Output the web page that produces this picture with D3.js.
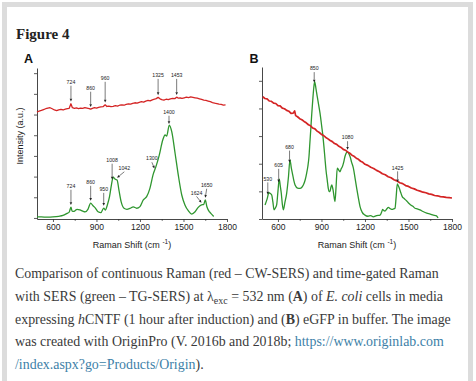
<!DOCTYPE html>
<html><head><meta charset="utf-8">
<script src="https://cdn.jsdelivr.net/npm/d3@7"></script>
<style>body{margin:0;background:#fff;} svg{display:block;}</style>
</head><body>
<svg id="c" width="476" height="381"></svg>
<script>
// ---------- data ----------
const xTicks = [600, 900, 1200, 1500, 1800];
const xMinorTicks = [750, 1050, 1350, 1650];
const yTicksA = [0, 1, 2, 3, 4, 5, 6, 7];
const yTicksB = [0, 1, 2, 3, 4, 5];

// Panel A, continuous Raman (red - CW-SERS)
const redA = [[490,5.12],[505,5.17],[520,5.20],[535,5.24],[550,5.28],[565,5.31],[580,5.33],[595,5.28],[610,5.22],[625,5.19],[640,5.23],[655,5.25],[670,5.22],[685,5.26],[700,5.29],[712,5.30],[724,5.52],[734,5.33],[748,5.30],[762,5.32],[776,5.29],[790,5.31],[805,5.30],[820,5.33],[835,5.31],[850,5.29],[860,5.26],[872,5.30],[886,5.33],[900,5.31],[915,5.35],[930,5.37],[945,5.38],[960,5.47],[972,5.39],[985,5.41],[1000,5.38],[1015,5.40],[1030,5.43],[1045,5.41],[1060,5.45],[1075,5.47],[1090,5.45],[1105,5.49],[1120,5.52],[1135,5.50],[1150,5.54],[1165,5.57],[1180,5.55],[1195,5.59],[1210,5.62],[1225,5.60],[1240,5.65],[1255,5.68],[1270,5.66],[1285,5.71],[1300,5.74],[1312,5.77],[1325,5.83],[1338,5.76],[1350,5.72],[1365,5.70],[1380,5.74],[1395,5.72],[1410,5.76],[1425,5.78],[1440,5.77],[1453,5.84],[1465,5.79],[1478,5.80],[1490,5.78],[1505,5.81],[1520,5.84],[1535,5.82],[1550,5.85],[1565,5.83],[1580,5.81],[1595,5.79],[1610,5.76],[1625,5.73],[1640,5.70],[1655,5.68],[1670,5.65],[1685,5.62],[1700,5.58],[1715,5.55],[1730,5.53],[1745,5.50],[1760,5.49],[1775,5.46],[1790,5.47]];

// Panel A, time-gated Raman (green - TG-SERS)
const greenA = [[490,0.05],[520,0.05],[560,0.04],[600,0.05],[640,0.08],[669,0.12],[697,0.22],[712,0.28],[724,0.52],[732,0.33],[745,0.32],[766,0.42],[786,0.39],[805,0.33],[821,0.29],[842,0.43],[860,0.72],[875,0.60],[890,0.50],[911,0.30],[931,0.26],[950,0.48],[961,0.38],[975,0.63],[990,1.03],[1003,1.59],[1015,1.97],[1030,1.87],[1042,1.84],[1055,1.35],[1070,0.79],[1090,0.47],[1110,0.42],[1130,0.46],[1154,0.54],[1177,0.47],[1200,0.55],[1223,0.87],[1246,1.03],[1269,1.44],[1290,2.08],[1310,2.48],[1333,3.04],[1357,3.77],[1373,4.01],[1384,3.96],[1402,4.49],[1419,4.17],[1442,3.13],[1464,2.08],[1488,1.11],[1510,0.63],[1533,0.35],[1557,0.19],[1580,0.30],[1600,0.50],[1624,0.63],[1640,0.66],[1650,0.87],[1662,0.53],[1680,0.29],[1700,0.14],[1708,0.07]];

// Panel B, continuous Raman (red)
const redB = [[495,4.43],[510,4.36],[525,4.35],[540,4.27],[555,4.26],[570,4.19],[585,4.18],[600,4.10],[615,4.09],[630,4.01],[645,3.99],[660,3.93],[675,3.90],[690,3.82],[705,3.83],[715,3.91],[722,3.74],[735,3.70],[750,3.63],[765,3.59],[780,3.53],[795,3.48],[810,3.41],[825,3.37],[840,3.29],[855,3.26],[870,3.18],[885,3.13],[900,3.06],[915,3.02],[930,2.95],[945,2.90],[960,2.84],[975,2.80],[990,2.73],[1005,2.70],[1020,2.63],[1035,2.59],[1050,2.52],[1065,2.49],[1080,2.43],[1095,2.38],[1110,2.31],[1125,2.27],[1140,2.20],[1155,2.16],[1170,2.09],[1185,2.05],[1200,1.98],[1220,1.94],[1240,1.87],[1260,1.83],[1280,1.76],[1300,1.71],[1320,1.64],[1340,1.60],[1360,1.53],[1380,1.49],[1400,1.42],[1420,1.38],[1440,1.31],[1460,1.28],[1480,1.21],[1500,1.18],[1520,1.12],[1540,1.09],[1560,1.04],[1580,1.01],[1600,0.97],[1620,0.95],[1640,0.91],[1660,0.89],[1680,0.85],[1700,0.84],[1720,0.81],[1740,0.80],[1760,0.78],[1780,0.77],[1800,0.76]];

// Panel B, time-gated Raman (green)
const greenB = [[511,0.51],[525,0.72],[538,0.95],[548,0.92],[557,0.87],[565,0.62],[573,0.33],[582,0.40],[591,0.51],[600,1.00],[609,1.44],[616,1.20],[623,0.93],[630,0.55],[637,0.33],[648,0.60],[660,0.93],[672,1.50],[683,2.14],[692,1.85],[702,1.59],[710,1.38],[718,1.23],[735,1.12],[752,1.11],[765,1.15],[775,1.23],[788,1.42],[798,1.66],[806,1.90],[814,2.26],[820,2.75],[826,3.22],[833,3.80],[840,4.31],[847,4.75],[853,4.97],[862,4.72],[871,4.43],[880,4.15],[890,3.83],[902,3.34],[910,3.00],[917,2.62],[924,2.20],[931,1.78],[940,1.40],[947,1.11],[953,1.00],[959,0.99],[965,1.15],[971,1.23],[976,1.15],[980,1.05],[987,0.80],[993,0.63],[1000,1.10],[1009,1.84],[1018,1.78],[1028,1.71],[1036,1.82],[1044,1.89],[1053,2.05],[1062,2.26],[1070,2.38],[1078,2.44],[1087,2.38],[1097,2.26],[1108,2.05],[1120,1.84],[1131,1.50],[1143,1.11],[1155,0.75],[1166,0.45],[1180,0.25],[1200,0.14],[1220,0.10],[1240,0.12],[1257,0.08],[1280,0.12],[1304,0.14],[1315,0.25],[1322,0.35],[1330,0.30],[1338,0.29],[1350,0.36],[1361,0.42],[1372,0.38],[1384,0.35],[1395,0.36],[1407,0.39],[1415,0.80],[1423,1.27],[1430,1.20],[1437,1.11],[1447,0.95],[1457,0.81],[1470,0.74],[1488,0.65],[1500,0.58],[1515,0.51],[1530,0.46],[1545,0.39],[1560,0.37],[1579,0.33],[1600,0.27],[1626,0.21],[1650,0.18],[1671,0.14],[1690,0.12],[1704,0.04]];

// peak annotations: w = wavenumber, ly = label level (a.u.), lx = label wavenumber if offset
const peaksRedA = [{w:724,ly:6.48},{w:860,ly:6.19},{w:960,ly:6.67},{w:1325,ly:6.81},{w:1453,ly:6.81}];
const peaksGreenA = [{w:724,ly:1.45},{w:860,ly:1.64},{w:950,ly:1.30},{w:1008,ly:2.71},{w:1042,ly:2.32,lx:1092},{w:1300,ly:2.78,lx:1282},{w:1400,ly:5.03},{w:1624,ly:1.13,lx:1590},{w:1650,ly:1.50,lx:1660}];
const peaksGreenB = [{w:530,ly:1.39},{w:605,ly:1.88},{w:680,ly:2.54},{w:850,ly:5.38},{w:1080,ly:2.88},{w:1425,ly:1.79}];

const captionLines = [
  [["Comparison of continuous Raman (red – CW-SERS) and time-gated Raman"]],
  [["with SERS (green – TG-SERS) at λ"],["exc","sub"],[" = 532 nm ("],["A","b"],[") of "],["E. coli","i"],[" cells in media"]],
  [["expressing "],["h","i"],["CNTF (1 hour after induction) and ("],["B","b"],[") eGFP in buffer. The image"]],
  [["was created with OriginPro (V. 2016b and 2018b; "],["https://www.originlab.com","a"]],
  [["/index.aspx?go=Products/Origin","a"],[")."]]
];

// ---------- drawing ----------
const svg = d3.select("#c");
const RED = "#d42424", GREEN = "#2f962f", AX = "#333";

// card frame
svg.append("rect").attr("x",2).attr("y",2).attr("width",471).attr("height",400).attr("fill","#dcdcdc");
svg.append("rect").attr("x",7).attr("y",7).attr("width",461).attr("height",400).attr("fill","#fff");

svg.append("text").attr("x",16).attr("y",39).text("Figure 4")
  .style("font-family","'Liberation Serif', serif").style("font-weight","bold")
  .style("font-size","15px").attr("fill","#222");

function valAt(data, w){
  const i = d3.bisector(d=>d[0]).left(data, w);
  if (i<=0) return data[0][1];
  if (i>=data.length) return data[data.length-1][1];
  const a = data[i-1], b = data[i];
  return a[1] + (b[1]-a[1])*(w-a[0])/(b[0]-a[0]);
}

function panel(opts){
  const {x, y, yTicks, series, peaks, letter, letterX} = opts;
  const g = svg.append("g");
  // y axis
  g.append("g").attr("transform",`translate(${x.range()[0]},0)`)
    .call(d3.axisLeft(y).tickValues(yTicks).tickSize(3).tickSizeOuter(0).tickFormat(""));
  // x axis
  const y0 = y.range()[0];
  const xa = g.append("g").attr("transform",`translate(0,${y0})`)
    .call(d3.axisBottom(x).tickValues(xTicks).tickSize(3).tickPadding(2).tickSizeOuter(0).tickFormat(d3.format("d")));
  g.append("g").attr("transform",`translate(0,${y0})`)
    .call(d3.axisBottom(x).tickValues(xMinorTicks).tickSize(1.8).tickSizeOuter(0).tickFormat(""))
    .select(".domain").remove();
  g.selectAll(".domain").attr("stroke",AX).attr("stroke-width",0.9);
  g.selectAll(".tick line").attr("stroke",AX).attr("stroke-width",0.8);
  xa.selectAll("text").style("font-family","'Liberation Sans', Arial, sans-serif").style("font-size","8.5px").attr("fill","#222");

  // x axis title
  const t = g.append("text").attr("x",(x.range()[0]+x.range()[1])/2).attr("y",247.5)
    .attr("text-anchor","middle").attr("fill","#222")
    .style("font-family","'Liberation Sans', Arial, sans-serif").style("font-size","9px");
  t.append("tspan").text("Raman Shift (cm ");
  t.append("tspan").text("-1").attr("dy",-3.5).style("font-size","6.5px");
  t.append("tspan").text(")").attr("dy",3.5);

  // series
  series.forEach(s=>{
    const line = d3.line().x(d=>x(d[0])).y(d=>y(d[1]));
    if (s.smooth) line.curve(d3.curveMonotoneX);
    g.append("path").datum(s.data).attr("d",line).attr("fill","none")
      .attr("stroke",s.color).attr("stroke-width",s.width).attr("stroke-linejoin","round");
  });

  // peak annotations
  peaks.forEach(p=>{
    p.items.forEach(a=>{
      const lx = x(a.lx ?? a.w), ly = y(a.ly);
      const tx = x(a.w), ty = y(valAt(p.data, a.w)) - 2.2;
      g.append("text").attr("x",lx).attr("y",ly).attr("text-anchor","middle").text(a.w)
        .style("font-family","'Liberation Sans', Arial, sans-serif").style("font-size","5.2px").attr("fill","#222");
      const sx = lx, sy = ly + 1.8;
      const ang = Math.atan2(ty-sy, tx-sx);
      const L = 2.8, W = 1.3;
      const bx = tx - L*Math.cos(ang), by = ty - L*Math.sin(ang);
      g.append("line").attr("x1",sx).attr("y1",sy).attr("x2",bx).attr("y2",by)
        .attr("stroke","#222").attr("stroke-width",0.6);
      const nx = -Math.sin(ang)*W, ny = Math.cos(ang)*W;
      g.append("path").attr("d",`M${tx},${ty}L${bx+nx},${by+ny}L${bx-nx},${by-ny}Z`).attr("fill","#222");
    });
  });

  // panel letter
  g.append("text").attr("x",letterX).attr("y",62.5).text(letter)
    .style("font-family","'Liberation Sans', Arial, sans-serif").style("font-weight","bold")
    .style("font-size","12.5px").attr("fill","#111");
  return g;
}

const xA = d3.scaleLinear().domain([490,1800]).range([37,227]);
const yA = d3.scaleLinear().domain([-0.05,7.25]).range([219,68]);
panel({x:xA, y:yA, yTicks:yTicksA, letter:"A", letterX:24,
  series:[{data:greenA,color:GREEN,width:1.3,smooth:true},{data:redA,color:RED,width:1.3}],
  peaks:[{data:redA,items:peaksRedA},{data:greenA,items:peaksGreenA}]});

const xB = d3.scaleLinear().domain([490,1800]).range([262,452]);
const yB = d3.scaleLinear().domain([0,5.5]).range([219,67]);
panel({x:xB, y:yB, yTicks:yTicksB, letter:"B", letterX:249.5,
  series:[{data:greenB,color:GREEN,width:1.3,smooth:true},{data:redB,color:RED,width:1.7}],
  peaks:[{data:greenB,items:peaksGreenB}]});

// y axis title (panel A)
svg.append("text").attr("transform","translate(23,136) rotate(-90)").attr("text-anchor","middle")
  .text("Intensity (a.u.)").attr("fill","#222")
  .style("font-family","'Liberation Sans', Arial, sans-serif").style("font-size","9px");

// caption
const capG = svg.append("g");
const baselines = [278.3, 301, 323.7, 346.4, 369.1];
const capNodes = captionLines.map((parts,i)=>{
  const t = capG.append("text").attr("x",15).attr("y",baselines[i]).attr("fill","#3a3a3a")
    .style("font-family","'Liberation Serif', 'DejaVu Serif', serif");
  parts.forEach(([s,k])=>{
    const sp = t.append("tspan").text(s);
    if (k==="b") sp.style("font-weight","bold");
    if (k==="i") sp.style("font-style","italic");
    if (k==="a") sp.attr("fill","#3d7fa8");
    if (k==="sub") sp.attr("class","sub");
  });
  return t;
});
function setCapSize(fs){
  capNodes.forEach(t=>{
    t.style("font-size",fs+"px");
    t.selectAll("tspan").each(function(){
      const sp = d3.select(this);
      if (sp.classed("sub")) { sp.style("font-size",(fs*0.72)+"px").attr("dy",fs*0.22); }
    });
    t.selectAll("tspan").each(function(d,i,nodes){
      const sp = d3.select(this);
      if (i>0 && d3.select(nodes[i-1]).classed("sub")) sp.attr("dy",-fs*0.22);
    });
  });
}
setCapSize(14);
const targets = [430, 413, 437, 439];
let ratio = 0;
targets.forEach((w,i)=>{ ratio += w / capNodes[i].node().getComputedTextLength(); });
ratio /= targets.length;
setCapSize(14*ratio);
</script>
</body></html>
